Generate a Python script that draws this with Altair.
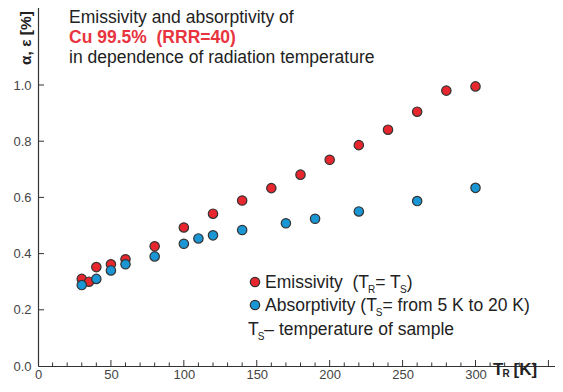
import altair as alt
import pandas as pd

# ---------------- data ----------------
emis_T = [30, 35, 40, 50, 60, 80, 100, 120, 140, 160, 180, 200, 220, 240, 260, 280, 300]
emis_v = [0.31, 0.30, 0.352, 0.362, 0.38, 0.426, 0.493, 0.542, 0.589, 0.633, 0.681,
          0.734, 0.786, 0.841, 0.905, 0.98, 0.995]
abs_T = [30, 40, 50, 60, 80, 100, 110, 120, 140, 170, 190, 220, 260, 300]
abs_v = [0.288, 0.31, 0.34, 0.362, 0.39, 0.435, 0.454, 0.465, 0.484, 0.508, 0.524,
         0.55, 0.587, 0.634]
x_labels = [0, 50, 100, 150, 200, 250, 300]
y_labels = [0.0, 0.2, 0.4, 0.6, 0.8, 1.0]
x_minor = list(range(10, 351, 10))
y_minor = [0.2, 0.4, 0.6, 0.8, 1.0]

title_lines = ["Emissivity and absorptivity of", "Cu 99.5%\u00a0 (RRR=40)",
               "in dependence of radiation temperature"]

RED = "#e8262e"
BLUE = "#1a96d4"
TITLE_RED = "#e8343e"
DARK = "#222222"
AXIS = "#333333"
FONT = "Liberation Sans"

# view: page x 38..555, page y 5..366 (top padding -3 so the axis starts at y=5)
PX_PER_K = 525 / 360.0
W, H = 517, 361
XMAX, YMAX = W / PX_PER_K, 361 / 281.0
xs = alt.Scale(domain=[0, XMAX], nice=False, zero=False)
ys = alt.Scale(domain=[0, YMAX], nice=False, zero=False)


def px2x(px):
    return px / PX_PER_K


def py2y(py):
    return (H - py) / H * YMAX


# Arial / Liberation Sans advance widths (per 1000 em)
REG = {' ': 278, '\u00a0': 278, '(': 333, ')': 333, '=': 584, '–': 556, '[': 278, ']': 278,
       '%': 889, '.': 278, ',': 278, 'A': 667, 'E': 667, 'K': 667, 'R': 722, 'S': 667,
       'T': 611, 'a': 556, 'b': 556, 'c': 500, 'd': 556, 'e': 556, 'f': 278, 'g': 556,
       'h': 556, 'i': 222, 'l': 222, 'm': 833, 'n': 556, 'o': 556, 'p': 556, 'r': 333,
       's': 500, 't': 278, 'u': 556, 'v': 500, 'y': 500}
BOLD = {' ': 278, '[': 333, ']': 333, 'K': 722, 'R': 722, 'S': 667, 'T': 611}


def tw(s, size, bold=False):
    tab = BOLD if bold else REG
    return sum(tab.get(c, 556) for c in s) * size / 1000.0


FS = 17.5
SUB = 10
OY = 5  # page y of the view's top edge
OX = 38  # page x of the view's left edge


def segments(parts, x0_page, base_page, bold=False, color=DARK, fs=FS, subdy=5):
    rows = []
    x = x0_page - OX
    base = base_page - OY
    for text, sub, kern in parts:
        size = SUB if sub else fs
        y = base + (subdy if sub else 0)
        x += kern
        rows.append({"text": text, "T": px2x(x), "v": py2y(y), "fs": size, "col": color})
        x += tw(text, size, bold)
    return rows


reg_rows = []
reg_rows += segments([(title_lines[0], False, 0)], 69, 23)
reg_rows += segments([(title_lines[2], False, 0)], 69, 63)
reg_rows += segments([("Emissivity \u00a0(T", False, 0), ("R", True, -1),
                      ("= T", False, 0), ("S", True, -1), (")", False, 0)], 265, 288)
reg_rows += segments([("Absorptivity (T", False, 0), ("S", True, -1),
                      ("= from 5 K to 20 K)", False, 0)], 265, 311)
reg_rows += segments([("T", False, 0), ("S", True, -1), ("– temperature of sample", False, 0)],
                     248, 335)

bold_rows = []
bold_rows += segments([(title_lines[1], False, 0)], 69, 43, bold=True, color=TITLE_RED)
bold_rows += segments([("T", False, 0), ("R", True, -1), ("[K]", False, 4)], 493, 375,
                      bold=True, subdy=2, fs=17)

reg_df = pd.DataFrame(reg_rows)
bold_df = pd.DataFrame(bold_rows)

emis_df = pd.DataFrame({"T": emis_T, "v": emis_v})
abs_df = pd.DataFrame({"T": abs_T, "v": abs_v})

# ---------------- layers ----------------
xaxis = alt.Axis(values=x_labels, title=None, ticks=False, tickSize=0, grid=False,
                 domainColor=AXIS, domainWidth=1.2, labelColor="#444", labelFont=FONT,
                 labelFontSize=13, labelPadding=2, labelFlush=False)
yaxis = alt.Axis(values=y_labels, title=None, ticks=False, tickSize=0, grid=False,
                 domainColor=AXIS, domainWidth=1.2, labelColor="#444", labelFont=FONT,
                 labelFontSize=13, labelPadding=7, format=".1f")


def X(field):
    return alt.X(field, scale=xs, axis=xaxis)


def Y(field):
    return alt.Y(field, scale=ys, axis=yaxis)


red_pts = alt.Chart(emis_df).mark_circle(size=88, color=RED, stroke=AXIS, strokeWidth=1.2,
                                         opacity=1).encode(x=X("T:Q"), y=Y("v:Q"))
blue_pts = alt.Chart(abs_df).mark_circle(size=88, color=BLUE, stroke=AXIS, strokeWidth=1.2,
                                         opacity=1).encode(x=X("T:Q"), y=Y("v:Q"))

xt_df = pd.DataFrame({"T": x_minor,
                      "v": [0.0] * len(x_minor),
                      "top": [py2y(H - (6 if t % 50 == 0 else 3.5)) for t in x_minor]})
x_ticks = alt.Chart(xt_df).mark_rule(color=AXIS, strokeWidth=1).encode(
    x=X("T:Q"), y=Y("v:Q"), y2="top:Q")

yt_df = pd.DataFrame({"v": y_minor, "T": [0.0] * len(y_minor),
                      "b": [px2x(6)] * len(y_minor)})
y_ticks = alt.Chart(yt_df).mark_rule(color=AXIS, strokeWidth=1).encode(
    y=Y("v:Q"), x=X("T:Q"), x2="b:Q")

leg_df = pd.DataFrame({"T": [px2x(255 - OX), px2x(255 - OX)],
                       "v": [py2y(282 - OY), py2y(305 - OY)],
                       "col": [RED, BLUE]})
leg_pts = alt.Chart(leg_df).mark_circle(size=88, stroke=AXIS, strokeWidth=1.2,
                                        opacity=1).encode(
    x=X("T:Q"), y=Y("v:Q"), color=alt.Color("col:N", scale=None))

reg_text = alt.Chart(reg_df).mark_text(align="left", baseline="alphabetic", font=FONT,
                                       clip=False).encode(
    x=X("T:Q"), y=Y("v:Q"), text="text:N",
    size=alt.Size("fs:Q", scale=None, legend=None),
    color=alt.Color("col:N", scale=None),
)
bold_text = alt.Chart(bold_df).mark_text(align="left", baseline="alphabetic", font=FONT,
                                         fontWeight="bold", clip=False).encode(
    x=X("T:Q"), y=Y("v:Q"), text="text:N",
    size=alt.Size("fs:Q", scale=None, legend=None),
    color=alt.Color("col:N", scale=None),
)
ytitle_df = pd.DataFrame({"text": ["α, ε [%]"], "T": [px2x(31 - OX)], "v": [py2y(38 - OY)]})
y_title = alt.Chart(ytitle_df).mark_text(align="center", baseline="alphabetic", font=FONT,
                                         fontWeight="bold", fontSize=15.5, angle=270,
                                         color=DARK, clip=False).encode(
    x=X("T:Q"), y=Y("v:Q"), text="text:N",
)

chart = alt.layer(red_pts, blue_pts, x_ticks, y_ticks, leg_pts, reg_text, bold_text,
                  y_title).properties(
    width=W, height=H,
    autosize=alt.AutoSizeParams(type="none"),
    padding={"left": 30, "top": -3, "right": 0, "bottom": 14},
    background="white",
).configure_view(stroke=None)

chart.save("out.html", embed_options={"renderer": "svg", "actions": False})
